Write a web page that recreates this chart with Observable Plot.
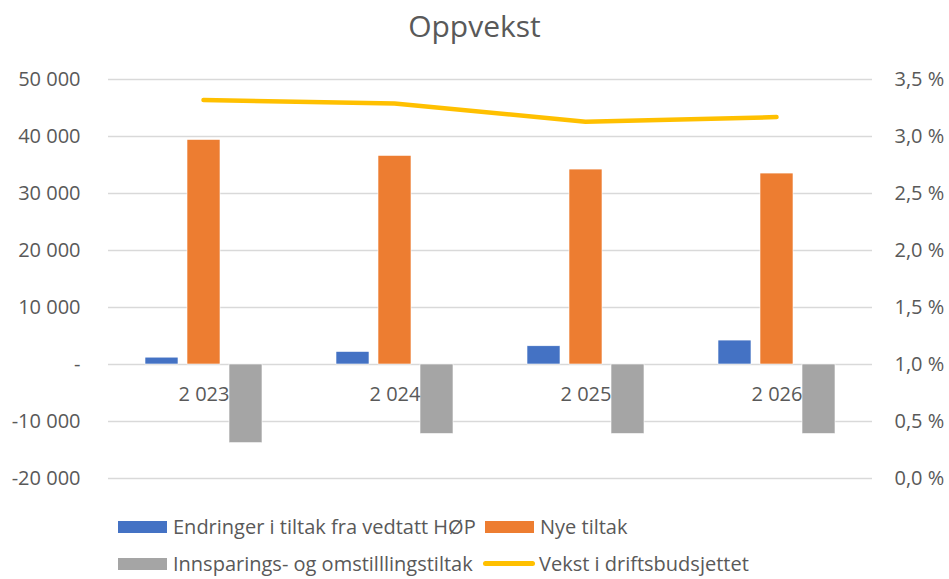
<!DOCTYPE html>
<html>
<head>
<meta charset="utf-8">
<script src="https://cdn.jsdelivr.net/npm/d3@7"></script>
<script src="https://cdn.jsdelivr.net/npm/@observablehq/plot@0.6"></script>
<style>
  body { margin: 0; background: #fff; font-family: "Open Sans", sans-serif; color: #595959; }
  #wrap { position: relative; width: 949px; height: 579px; overflow: hidden; background: #fff; }
  #title { position: absolute; left: 0; top: 3px; width: 949px; text-align: center; font-size: 30px; line-height: 46px; color: #595959; }
  #chart { position: absolute; left: 0; top: 50px; width: 949px; height: 450px; }
  #chart svg { position: absolute; left: 0; top: 0; }
  #legend { position: absolute; left: 118px; top: 508px; display: grid; grid-template-columns: 365px auto; grid-auto-rows: 37px; align-items: center; font-size: 20px; line-height: 24px; color: #595959; white-space: nowrap; }
  .item { display: flex; align-items: center; }
  .sw { width: 49px; height: 12px; margin-right: 6px; }
  .swl { width: 52px; height: 5px; border-radius: 3px; margin-right: 4px; }
</style>
</head>
<body>
<div id="wrap">
  <div id="title">Oppvekst</div>
  <div id="chart"></div>
  <div id="legend"></div>
</div>
<script>
// ---- data ----
const years = [2023, 2024, 2025, 2026];
const yearLabels = ["2 023", "2 024", "2 025", "2 026"];
const seriesNames = ["Endringer i tiltak fra vedtatt HØP", "Nye tiltak", "Innsparings- og omstilllingstiltak", "Vekst i driftsbudsjettet"];
const seriesColors = ["#4472C4", "#ED7D31", "#A5A5A5", "#FFC000"];
const endringer = [1200, 2200, 3200, 4200];
const nyeTiltak = [39400, 36600, 34200, 33500];
const innsparing = [-13800, -12200, -12200, -12200];
const vekstPct = [3.32, 3.29, 3.13, 3.17];
const leftTicks = [-20000, -10000, 0, 10000, 20000, 30000, 40000, 50000];
const rightTicks = [0, 0.5, 1.0, 1.5, 2.0, 2.5, 3.0, 3.5];

// ---- build tables ----
const barSeries = [endringer, nyeTiltak, innsparing];
const rows = years.flatMap((yr, i) => barSeries.map((arr, s) => ({ year: yr, series: seriesNames[s], value: arr[i] })));
const lineRows = years.map((yr, i) => ({ year: yr, pct: vekstPct[i] }));
const labelRows = years.map((yr, i) => ({ year: yr, label: yearLabels[i], base: 0 }));

const fmtLeft = d => d === 0 ? "-" : (d < 0 ? "-" : "") + d3.format(",")(Math.abs(d)).replace(/,/g, " ");
const fmtPct = d => d.toFixed(1).replace(".", ",") + " %";

const W = 949, H = 450;
const frame = { width: W, height: H, marginTop: 29, marginBottom: 22, marginLeft: 106, marginRight: 76 };
const style = { fontFamily: "Open Sans, sans-serif", fontSize: "20px", color: "#595959", background: "transparent", overflow: "visible" };

const p1 = Plot.plot({
  ...frame,
  style,
  fx: { domain: years, padding: 0, axis: null, label: null },
  x: { domain: seriesNames.slice(0, 3), paddingInner: 0.205, paddingOuter: 0.864, axis: null },
  y: { domain: [-20000, 50000], ticks: leftTicks, tickFormat: fmtLeft, tickSize: 0, tickPadding: 28, label: null },
  color: { domain: seriesNames.slice(0, 3), range: seriesColors.slice(0, 3) },
  marks: [
    Plot.gridY(leftTicks, { stroke: "#D9D9D9", strokeOpacity: 1, strokeWidth: 1.3 }),
    Plot.barY(rows, { fx: "year", x: "series", y: "value", fill: "series", stroke: "#fff", strokeWidth: 0.6 }),
    Plot.text(labelRows, { fx: "year", y: "base", text: "label", dy: 30, fill: "#595959", fontSize: 20 })
  ]
});

const p2 = Plot.plot({
  ...frame,
  style,
  x: { type: "point", domain: years, padding: 0.5, axis: null },
  y: { domain: [0, 3.5], ticks: rightTicks, tickFormat: fmtPct, axis: "right", tickSize: 0, tickPadding: 21, label: null },
  marks: [
    Plot.line(lineRows, { x: "year", y: "pct", stroke: seriesColors[3], strokeWidth: 4.5, strokeLinecap: "round", strokeLinejoin: "round" })
  ]
});
p2.style.pointerEvents = "none";

const chart = document.getElementById("chart");
chart.appendChild(p1);
chart.appendChild(p2);

// ---- legend ----
const legend = document.getElementById("legend");
seriesNames.forEach((name, i) => {
  const item = document.createElement("div");
  item.className = "item";
  const sw = document.createElement("span");
  sw.className = i === 3 ? "swl" : "sw";
  sw.style.background = seriesColors[i];
  if (i % 2 === 1) sw.style.marginLeft = i === 3 ? "0px" : "2px";
  const t = document.createElement("span");
  t.textContent = name;
  item.appendChild(sw);
  item.appendChild(t);
  legend.appendChild(item);
});
</script>
</body>
</html>
